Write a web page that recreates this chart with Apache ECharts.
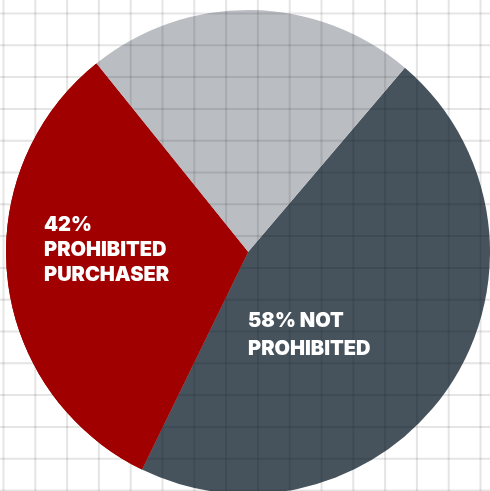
<!DOCTYPE html>
<html><head><meta charset="utf-8">
<script src="https://cdn.jsdelivr.net/npm/echarts@6/dist/echarts.min.js"></script>
<style>html,body{margin:0;padding:0;background:#fff}#c{width:490px;height:491px}</style>
</head><body><div id="c"></div>
<script>
var categories = ['Not prohibited', 'Prohibited purchaser', 'Other'];
var values = [46, 32, 22];
var colors = ['#46535d', '#a00000', '#babdc2'];
var labelLines = [['58% NOT', 'PROHIBITED'], ['42%', 'PROHIBITED', 'PURCHASER'], []];

var W = 490, H = 491, step = 31.8, ox = 3.5, oy = 13.5;
var gridOver = [];
function addLine(arr, x1, y1, x2, y2) {
  arr.push({ type: 'line', silent: true, z: 10, shape: { x1: x1, y1: y1, x2: x2, y2: y2 }, style: { stroke: '#e5e5e5', lineWidth: 2, blend: 'multiply' } });
}
for (var x = ox; x < W; x += step) addLine(gridOver, x, 0, x, H);
for (var y = oy; y < H; y += step) addLine(gridOver, 0, y, W, y);

var textEls = [
  { type: 'text', z: 20, left: 44, top: 212, style: { text: labelLines[1].join('\n'), fill: '#fff', font: '900 20px Inter', lineHeight: 25 } },
  { type: 'text', z: 20, left: 248, top: 307, style: { text: labelLines[0].join('\n'), fill: '#fff', font: '900 20px Inter', lineHeight: 28 } }
];

function pieSeries(z, onlyIdx) {
  return {
    type: 'pie',
    z: z,
    silent: true,
    center: [248, 252],
    radius: [0, 242],
    startAngle: 49.6,
    clockwise: true,
    label: { show: false },
    labelLine: { show: false },
    emphasis: { disabled: true },
    itemStyle: { borderWidth: 0 },
    data: categories.map(function (c, i) {
      var col = (onlyIdx === undefined || onlyIdx === i) ? colors[i] : 'rgba(0,0,0,0)';
      return { name: c, value: values[i], itemStyle: { color: col } };
    })
  };
}

var chart = echarts.init(document.getElementById('c'), null, { renderer: 'canvas' });
chart.setOption({
  animation: false,
  backgroundColor: '#ffffff',
  graphic: gridOver.concat(textEls),
  series: [pieSeries(2), pieSeries(15, 1)]
});
</script></body></html>
